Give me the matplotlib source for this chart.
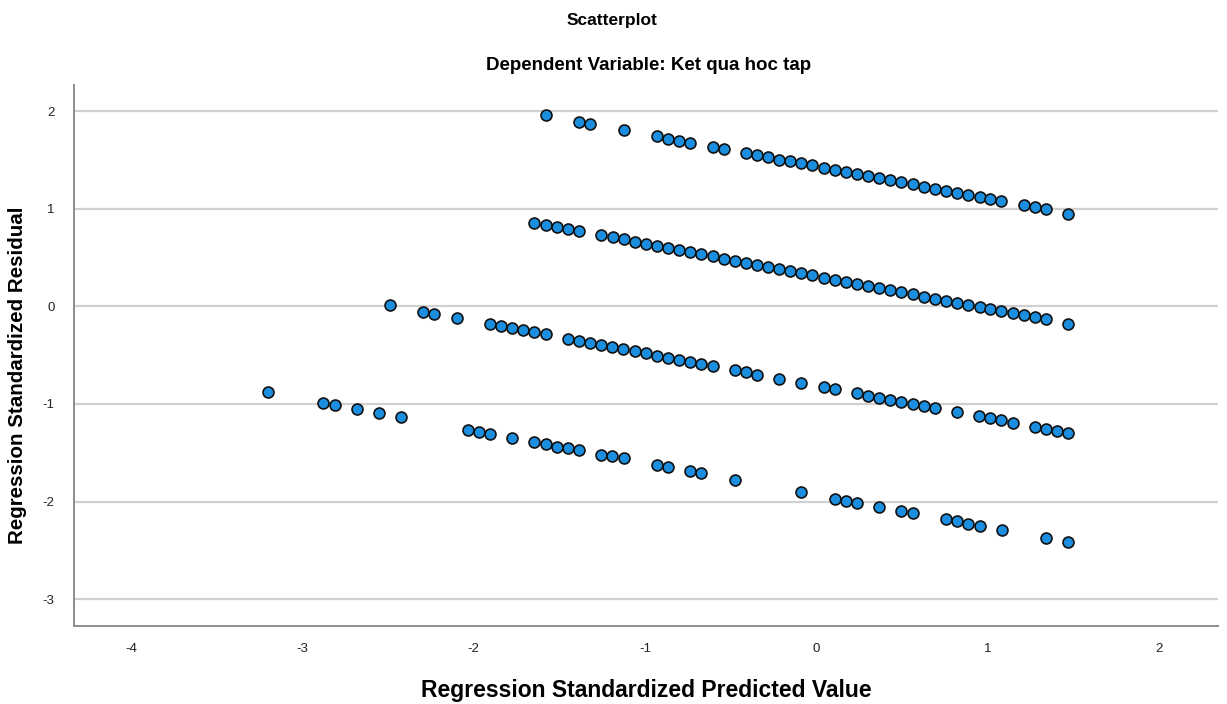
import matplotlib
matplotlib.use("Agg")
import matplotlib.pyplot as plt

plt.rcParams['font.family'] = ['Liberation Sans', 'DejaVu Sans']

# Band 1 (top)
x_top = [-1.578, -1.385, -1.321, -1.125, -0.930, -0.866, -0.800, -0.736, -0.605, -0.539,
         -0.410, -0.346, -0.282, -0.216, -0.152, -0.088, -0.023, 0.043, 0.107, 0.173,
         0.238, 0.302, 0.368, 0.432, 0.496, 0.562, 0.626, 0.691, 0.757, 0.821,
         0.886, 0.952, 1.016, 1.080, 1.210, 1.274, 1.341, 1.471]
y_top = [1.959, 1.891, 1.870, 1.809, 1.744, 1.721, 1.700, 1.680, 1.635, 1.615,
         1.571, 1.550, 1.530, 1.506, 1.489, 1.468, 1.445, 1.420, 1.397, 1.379,
         1.356, 1.335, 1.312, 1.291, 1.271, 1.250, 1.226, 1.206, 1.185, 1.165,
         1.141, 1.121, 1.100, 1.080, 1.036, 1.018, 0.998, 0.950]

# Band 2
x_mid1 = [-1.646, -1.578, -1.514, -1.448, -1.384, -1.255, -1.189, -1.125, -1.061, -0.994,
          -0.930, -0.866, -0.800, -0.736, -0.671, -0.605, -0.541, -0.477, -0.410, -0.346,
          -0.282, -0.216, -0.152, -0.088, -0.023, 0.043, 0.107, 0.173, 0.238, 0.302,
          0.368, 0.432, 0.496, 0.562, 0.626, 0.691, 0.757, 0.821, 0.886, 0.952,
          1.016, 1.080, 1.146, 1.210, 1.274, 1.341, 1.471]
y_mid1 = [0.855, 0.834, 0.814, 0.793, 0.770, 0.732, 0.709, 0.688, 0.664, 0.643,
          0.620, 0.599, 0.579, 0.558, 0.538, 0.514, 0.490, 0.469, 0.449, 0.425,
          0.405, 0.384, 0.364, 0.344, 0.320, 0.296, 0.272, 0.255, 0.231, 0.211,
          0.187, 0.167, 0.146, 0.126, 0.101, 0.081, 0.060, 0.040, 0.016, -0.004,
          -0.025, -0.045, -0.065, -0.089, -0.106, -0.127, -0.175]

# Band 3
x_mid2 = [-2.489, -2.296, -2.230, -2.100, -1.905, -1.839, -1.775, -1.710, -1.646, -1.580,
          -1.449, -1.385, -1.321, -1.257, -1.191, -1.127, -1.061, -0.996, -0.932, -0.868,
          -0.802, -0.737, -0.673, -0.605, -0.477, -0.410, -0.344, -0.216, -0.088, 0.043,
          0.109, 0.235, 0.302, 0.368, 0.432, 0.496, 0.562, 0.629, 0.693, 0.819,
          0.947, 1.016, 1.080, 1.146, 1.277, 1.341, 1.407, 1.471]
y_mid2 = [0.013, -0.052, -0.073, -0.117, -0.181, -0.201, -0.222, -0.246, -0.267, -0.287,
          -0.334, -0.355, -0.375, -0.396, -0.420, -0.441, -0.461, -0.482, -0.505, -0.526,
          -0.546, -0.566, -0.587, -0.610, -0.655, -0.676, -0.699, -0.740, -0.784, -0.825,
          -0.846, -0.891, -0.914, -0.935, -0.955, -0.979, -0.999, -1.019, -1.040, -1.085,
          -1.126, -1.146, -1.167, -1.190, -1.231, -1.255, -1.275, -1.299]

# Band 4 (bottom)
x_bot = [-3.203, -2.878, -2.812, -2.684, -2.553, -2.423, -2.033, -1.969, -1.905, -1.775,
         -1.646, -1.580, -1.514, -1.449, -1.385, -1.255, -1.191, -1.125, -0.930, -0.866,
         -0.736, -0.671, -0.475, -0.088, 0.107, 0.173, 0.238, 0.368, 0.496, 0.562,
         0.757, 0.821, 0.887, 0.953, 1.082, 1.343, 1.471]
y_bot = [-0.875, -0.986, -1.006, -1.049, -1.091, -1.134, -1.264, -1.284, -1.305, -1.346,
         -1.392, -1.412, -1.436, -1.456, -1.476, -1.519, -1.538, -1.558, -1.630, -1.650,
         -1.691, -1.712, -1.776, -1.903, -1.970, -1.991, -2.011, -2.056, -2.097, -2.121,
         -2.182, -2.202, -2.226, -2.251, -2.291, -2.376, -2.420]

x_ticks = [-4, -3, -2, -1, 0, 1, 2]
y_ticks = [-3, -2, -1, 0, 1, 2]

fig = plt.figure(figsize=(12.27, 7.04), dpi=100)
ax = fig.add_axes([74 / 1227, 78 / 704, 1144 / 1227, 541 / 704])

xs = x_top + x_mid1 + x_mid2 + x_bot
ys = y_top + y_mid1 + y_mid2 + y_bot
ax.scatter(xs, ys, s=62, color='#1b8ee0', edgecolors='#111111', linewidths=1.2, zorder=3)

ax.set_xlim(-4.333, 2.344)
ax.set_ylim(-3.276, 2.27)
ax.set_xticks(x_ticks)
ax.set_yticks(y_ticks)
ax.set_xticklabels([str(t) for t in x_ticks])
ax.set_yticklabels([str(t) for t in y_ticks])

# horizontal reference lines
ax.grid(axis='y', color='#d0d0d0', linewidth=1.6)
ax.set_axisbelow(True)

for side in ['top', 'right']:
    ax.spines[side].set_visible(False)
for side in ['left', 'bottom']:
    ax.spines[side].set_color('#8c8c8c')
    ax.spines[side].set_linewidth(1.4)

ax.tick_params(length=0, labelsize=9.5, labelcolor='#222222', pad=12)
ax.tick_params(axis='y', pad=14)

fig.text(612 / 1227, 1 - 20 / 704, 'Scatterplot', ha='center', va='center',
         fontsize=12.5, fontweight='bold')
fig.text(649 / 1227, 1 - 65 / 704, 'Dependent Variable: Ket qua hoc tap', ha='center', va='center',
         fontsize=13.5, fontweight='bold')
fig.text(646 / 1227, 1 - 690 / 704, 'Regression Standardized Predicted Value', ha='center',
         va='center', fontsize=16.5, fontweight='bold')
fig.text(18 / 1227, 1 - 375 / 704, 'Regression Standardized Residual', ha='center',
         va='center', rotation=90, fontsize=14.8, fontweight='bold')

fig.savefig('out.png', dpi=100)
